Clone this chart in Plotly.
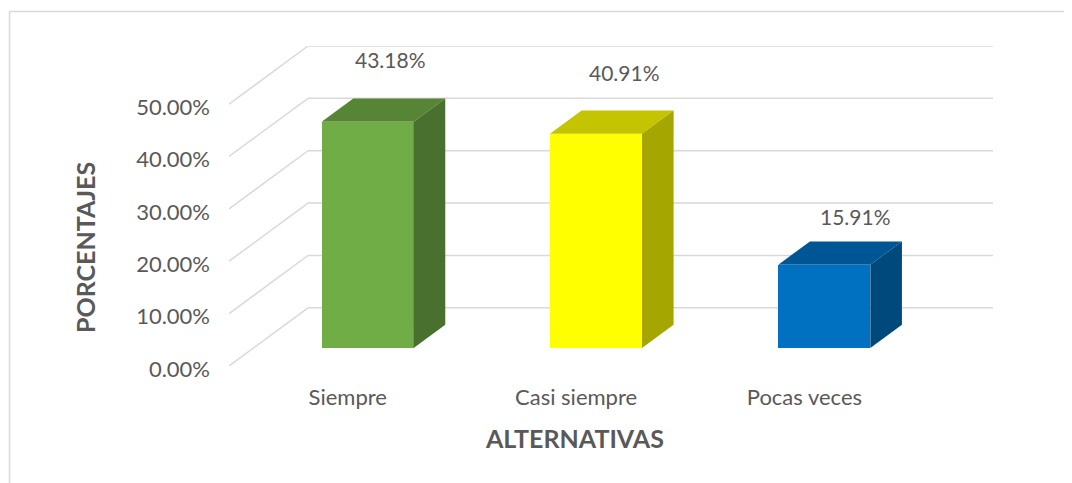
import plotly.graph_objects as go

# ---- data ----
categories = ["Siempre", "Casi siempre", "Pocas veces"]
values = [43.18, 40.91, 15.91]
value_labels = ["43.18%", "40.91%", "15.91%"]
y_ticks = [0, 10, 20, 30, 40, 50]
y_tick_labels = ["0.00%", "10.00%", "20.00%", "30.00%", "40.00%", "50.00%"]

# ---- style ----
front_colors = ["#70AD47", "#FFFF00", "#0070C0"]
top_colors = ["#578536", "#C4C400", "#005694"]
side_colors = ["#49702E", "#A6A600", "#00497D"]
label_shift_px = [(-9, 39), (-3, 38), (0, 25)]
TEXT = "#595959"
GRID = "#D9D9D9"
FONT = "Lato"

# oblique depth projection (data units)
DXu = 0.346   # horizontal shift for full depth
DYu = 11.1    # vertical shift for full depth (in % units)
d0, d1 = 0.31, 0.71   # bar depth extent (fraction of wall depth)
W = 0.403              # bar width in category units

# plot area in page pixels (page has an 8px body margin)
PL, PR, PT, PB = 229, 993, 46, 366
PW, PH = PR - PL, PB - PT

n = len(categories)
fig = go.Figure()

shapes = []
for t in y_ticks:
    shapes.append(dict(type="line", xref="x", yref="y", layer="below",
                       x0=0, y0=t, x1=DXu, y1=t + DYu,
                       line=dict(color=GRID, width=1.5)))
    shapes.append(dict(type="line", xref="x", yref="y", layer="below",
                       x0=DXu, y0=t + DYu, x1=n + DXu, y1=t + DYu,
                       line=dict(color=GRID, width=1.5)))
# chart border (top and left edges visible)
bx = (9.5 - PL) / PW
by = (PB - 11.5) / PH
shapes.append(dict(type="line", xref="paper", yref="paper",
                   x0=bx, y0=by, x1=1.2, y1=by,
                   line=dict(color=GRID, width=1.5)))
shapes.append(dict(type="line", xref="paper", yref="paper",
                   x0=bx, y0=by, x1=bx, y1=-0.5,
                   line=dict(color=GRID, width=1.5)))

b0 = d0 * DYu
b1 = d1 * DYu
ddx = (d1 - d0) * DXu

fig.add_trace(go.Bar(
    x=[i + 0.5 + d0 * DXu for i in range(n)],
    y=values,
    base=[b0] * n,
    width=[W] * n,
    marker=dict(color=front_colors, line=dict(width=0)),
    hoverinfo="skip",
    showlegend=False,
))

for i, v in enumerate(values):
    xl = i + 0.5 + d0 * DXu - W / 2
    xr = xl + W
    fig.add_trace(go.Scatter(
        x=[xl, xr, xr + ddx, xl + ddx, xl],
        y=[v + b0, v + b0, v + b1, v + b1, v + b0],
        fill="toself", fillcolor=top_colors[i], mode="lines",
        line=dict(width=0, color=top_colors[i]),
        hoverinfo="skip", showlegend=False))
    fig.add_trace(go.Scatter(
        x=[xr, xr, xr + ddx, xr + ddx, xr],
        y=[b0, v + b0, v + b1, b1, b0],
        fill="toself", fillcolor=side_colors[i], mode="lines",
        line=dict(width=0, color=side_colors[i]),
        hoverinfo="skip", showlegend=False))

annotations = []
for i, v in enumerate(values):
    sx, sy = label_shift_px[i]
    annotations.append(dict(
        x=i + 0.5 + d1 * DXu, y=v + b1, xref="x", yref="y",
        text=value_labels[i], showarrow=False,
        xanchor="center", yanchor="middle", xshift=sx, yshift=sy,
        font=dict(family=FONT, size=21, color=TEXT)))

annotations.append(dict(
    text="<b>PORCENTAJES</b>", xref="paper", yref="paper",
    x=0, y=(PB - 247.5) / PH, xshift=84.5 - PL,
    xanchor="center", yanchor="middle", textangle=-90, showarrow=False,
    font=dict(family=FONT, size=25, color=TEXT)))
annotations.append(dict(
    text="<b>ALTERNATIVAS</b>", xref="paper", yref="paper",
    x=(574 - PL) / PW, y=0, yshift=-(438 - PB),
    xanchor="center", yanchor="middle", showarrow=False,
    font=dict(family=FONT, size=25, color=TEXT)))

fig.update_layout(
    width=1064, height=475,
    margin=dict(l=PL - 8, r=1064 - (PR - 8), t=PT - 8, b=475 - (PB - 8)),
    paper_bgcolor="white", plot_bgcolor="white",
    shapes=shapes, annotations=annotations,
    bargap=0,
    xaxis=dict(range=[0, n + DXu], showgrid=False, zeroline=False,
               showline=False, ticks="",
               tickvals=[i + 0.52 for i in range(n)], ticktext=categories,
               tickfont=dict(family=FONT, size=22, color=TEXT),
               ticklabelstandoff=16, fixedrange=True),
    yaxis=dict(range=[0, 50 + DYu], showgrid=False, zeroline=False,
               showline=False, ticks="",
               tickvals=y_ticks, ticktext=y_tick_labels,
               tickfont=dict(family=FONT, size=22, color=TEXT),
               ticklabelstandoff=18, ticklabelshift=3, fixedrange=True),
)

fig.write_html("out.html")
